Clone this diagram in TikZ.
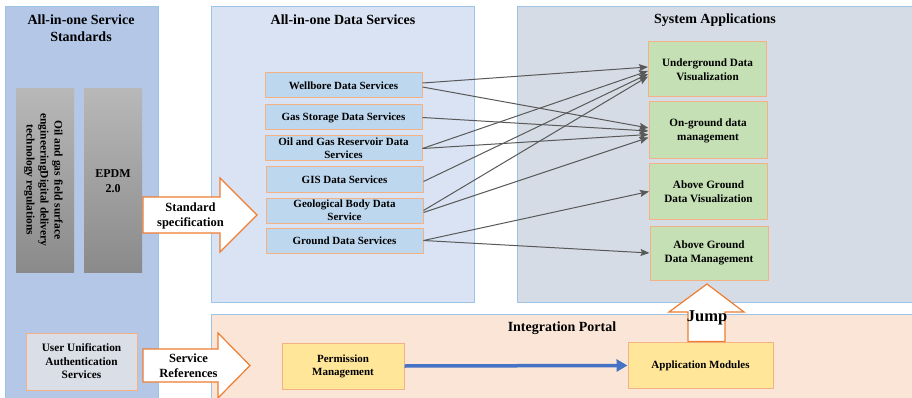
\documentclass[tikz,border=0pt]{standalone}
\usepackage{fontspec}
\setmainfont{Liberation Serif}
\usetikzlibrary{arrows.meta}
\definecolor{leftfill}{HTML}{B4C7E7}
\definecolor{midfill}{HTML}{DAE3F3}
\definecolor{rightfill}{HTML}{D6DCE5}
\definecolor{portalfill}{HTML}{FBE5D6}
\definecolor{panelline}{HTML}{9DC3E6}
\definecolor{boxline}{HTML}{F4B183}
\definecolor{arrline}{HTML}{ED7D31}
\definecolor{svcfill}{HTML}{BDD7EE}
\definecolor{appfill}{HTML}{C5E0B4}
\definecolor{yelfill}{HTML}{FFE699}
\definecolor{userfill}{HTML}{DADEE6}
\definecolor{conn}{HTML}{595959}
\definecolor{bluearr}{HTML}{4472C4}
\definecolor{graytop}{HTML}{B8B8B8}
\definecolor{graybot}{HTML}{8A8A8A}
\begin{document}
\begin{tikzpicture}[x=1pt,y=-1pt,
  panel/.style={draw=panelline, line width=0.9pt},
  titletext/.style={font=\bfseries\fontsize{14}{17}\selectfont, align=center, inner sep=0pt},
  svcbox/.style={draw=boxline, fill=svcfill, line width=1pt, minimum width=157pt, minimum height=25pt, inner sep=0pt, align=center, font=\bfseries\fontsize{11}{13}\selectfont},
  appbox/.style={draw=boxline, fill=appfill, line width=1pt, minimum width=118pt, minimum height=55pt, inner sep=0pt, align=center, font=\bfseries\fontsize{11.2}{14}\selectfont},
  yelbox/.style={draw=boxline, fill=yelfill, line width=1pt, inner sep=0pt, align=center, font=\bfseries\fontsize{11}{13}\selectfont},
  graybox/.style={top color=graytop, bottom color=graybot, draw=none, inner sep=0pt, align=center},
  blockarrow/.style={draw=arrline, fill=white, line width=1.2pt, line join=miter},
  arrtext/.style={font=\bfseries\fontsize{12.5}{15}\selectfont, align=center, inner sep=0pt},
  conn/.style={draw=conn, line width=1pt, -{Stealth[length=9pt,width=7pt,inset=1.5pt]}},
]
\useasboundingbox (0,0) rectangle (912,398);
\clip (0,0) rectangle (912,398);

% panels
\draw[panel, fill=leftfill] (5,6) rectangle (158,404);
\draw[panel, fill=midfill] (211,6) rectangle (474,302);
\draw[panel, fill=rightfill] (517,6) rectangle (918,302);
\draw[panel, fill=portalfill] (211,314) rectangle (918,404);

% titles
\node[titletext] (t1) at (81,28.5) {All-in-one Service\\Standards};
\node[titletext] (t2) at (343,20) {All-in-one Data Services};
\node[titletext] (t3) at (715,20) {System Applications};
\node[titletext] (t4) at (562,328) {Integration Portal};

% standards
\node[graybox, minimum width=58pt, minimum height=183pt] (g1) at (45,180.5) {};
\node[rotate=-90, inner sep=0pt, align=center, font=\bfseries\fontsize{11.5}{14}\selectfont] (g1t) at (43.5,180) {Oil and gas field surface\\engineeringDigital delivery\\technology regulations};
\node[graybox, minimum width=58pt, minimum height=183pt] (g2) at (113,180.5) {};
\node[inner sep=0pt, align=center, font=\bfseries\fontsize{12}{15}\selectfont] (g2t) at (113,181) {EPDM\\2.0};

\node[draw=boxline, fill=userfill, line width=1pt, minimum width=111pt, minimum height=57pt, inner sep=0pt, align=center, font=\bfseries\fontsize{11.3}{13.5}\selectfont] (user) at (81.5,361.5) {User Unification\\Authentication\\Services};

% block arrows
\draw[blockarrow] (143,197) -- (220,197) -- (220,178) -- (257,215) -- (220,252) -- (220,233) -- (143,233) -- cycle;
\node[arrtext] (stdspec) at (190.5,215.5) {Standard\\specification};
\draw[blockarrow] (143,349) -- (218,349) -- (218,333) -- (250,365.5) -- (218,398) -- (218,382) -- (143,382) -- cycle;
\node[arrtext] (svcref) at (188.5,365.5) {Service\\References};

% data services
\node[svcbox] (wb) at (343.5,85.5) {Wellbore Data Services};
\node[svcbox] (gs) at (343.5,117.5) {Gas Storage Data Services};
\node[svcbox] (og) at (343.5,148.5) {Oil and Gas Reservoir Data\\Services};
\node[svcbox] (gis) at (344.5,179.5) {GIS Data Services};
\node[svcbox] (geo) at (344.5,210.5) {Geological Body Data\\Service};
\node[svcbox] (gd) at (344.5,240.5) {Ground Data Services};

% applications
\node[appbox] (ugv) at (707.5,69.5) {Underground Data\\Visualization};
\node[appbox, minimum height=57pt] (ogm) at (708,130.5) {On-ground data\\management};
\node[appbox] (agv) at (708.5,191.5) {Above Ground\\Data Visualization};
\node[appbox, minimum height=54pt] (agm) at (709,253) {Above Ground\\Data Management};

% connectors
\draw[conn] ([yshift=2.5pt]wb.east) -- ([yshift=2.5pt]ugv.west);
\draw[conn] ([yshift=-1.5pt]wb.east) -- ([yshift=2.5pt]ogm.west);
\draw[conn] (gs.east) -- ([yshift=-0.5pt]ogm.west);
\draw[conn] (og.east) -- ([yshift=-1.5pt]ugv.west);
\draw[conn] (og.east) -- ([yshift=-4pt]ogm.west);
\draw[conn] ([yshift=-2pt]gis.east) -- ([yshift=-4.5pt]ugv.west);
\draw[conn] (geo.east) -- ([yshift=-7pt]ugv.west);
\draw[conn] ([yshift=-2pt]geo.east) -- ([yshift=-7pt]ogm.west);
\draw[conn] (gd.east) -- (agv.west);
\draw[conn] (gd.east) -- (agm.west);

% integration portal
\node[yelbox, minimum width=122pt, minimum height=46pt] (pm) at (343,366) {Permission\\Management};
\node[yelbox, minimum width=145pt, minimum height=46pt] (am) at (700.5,365.5) {Application Modules};
\draw[draw=bluearr, line width=3.5pt, -{Triangle[length=11pt,width=12pt]}] (pm.east) -- (am.west);

% jump arrow
\draw[blockarrow] (688,341.5) -- (688,312) -- (669,312) -- (707,284) -- (744,312) -- (725,312) -- (725,341.5) -- cycle;
\node[inner sep=0pt, font=\bfseries\fontsize{16.5}{18}\selectfont] (jump) at (707,318) {Jump};
\end{tikzpicture}
\end{document}
